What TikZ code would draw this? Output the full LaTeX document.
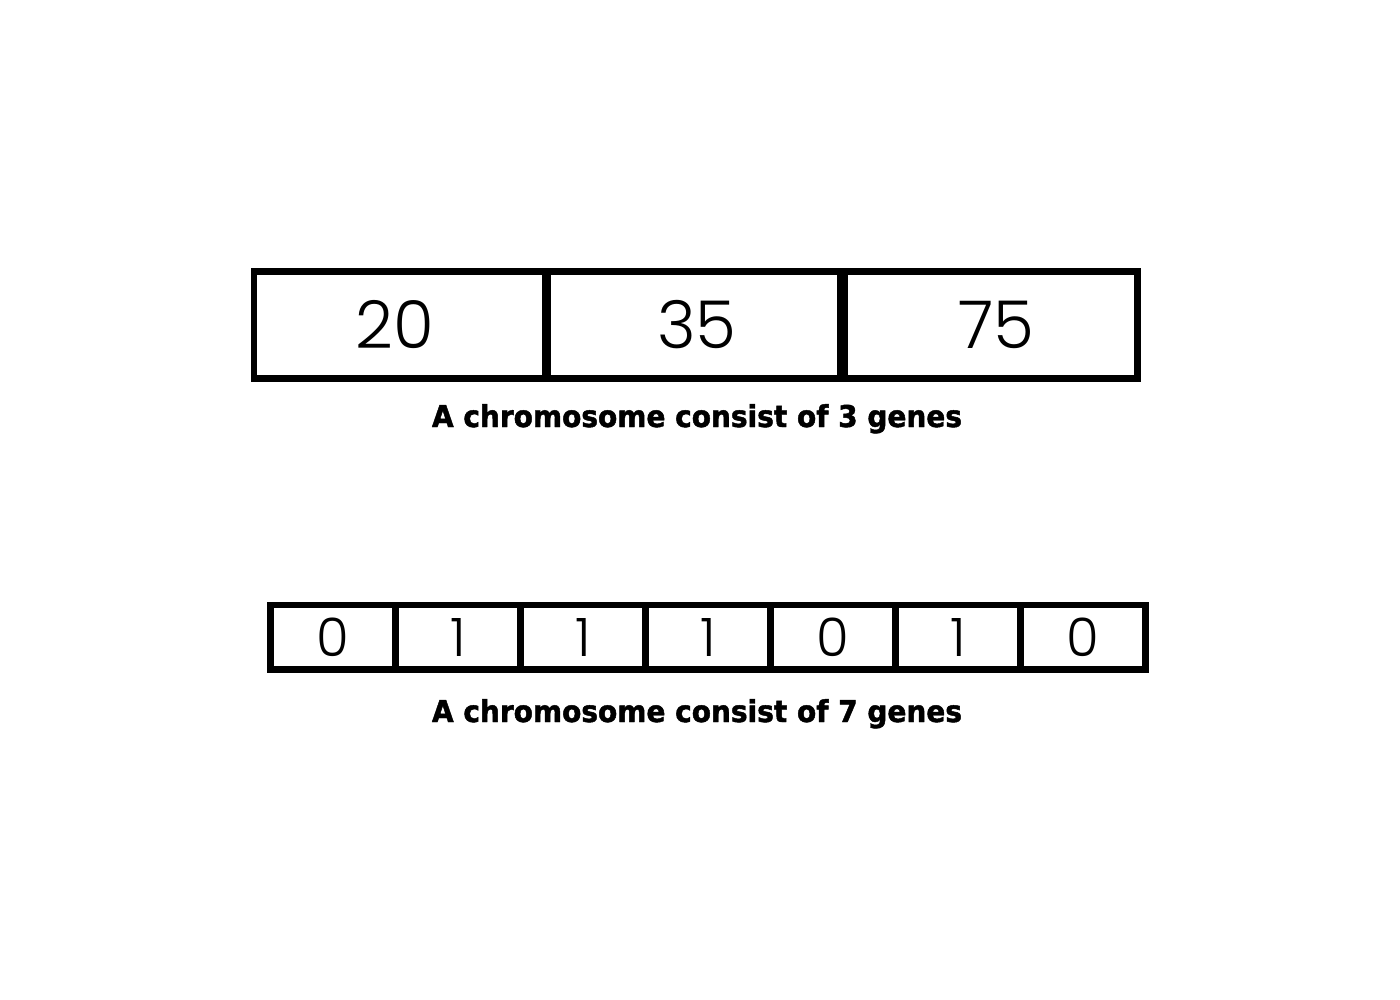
\documentclass[tikz,border=0pt]{standalone}
\usepackage{fontspec}
\newfontfamily\digitfont{Poppins Light}
\newfontfamily\capfont{DejaVu Sans Condensed}[BoldFont={DejaVu Sans Condensed Bold},BoldFeatures={FakeBold=1.5}]
\begin{document}
\begin{tikzpicture}[x=1pt,y=-1pt,
  cell/.style={draw=black, line width=6.5pt, inner sep=0pt, fill=white},
  bigcell/.style={cell, minimum height=107pt, font=\digitfont\fontsize{66}{66}\selectfont},
  smallcell/.style={cell, minimum width=125pt, minimum height=64.5pt, font=\digitfont\fontsize{53}{53}\selectfont},
  caption/.style={inner sep=0pt, anchor=base, font=\capfont\bfseries\fontsize{30}{30}\selectfont}
]
\useasboundingbox[fill=white] (0,0) rectangle (1400,1000);
% top chromosome
\node[bigcell, minimum width=291pt] (t1) at (399.5,325) {\hspace*{-10pt}20};
\node[bigcell, minimum width=292pt] (t2) at (694,325) {\hspace*{6pt}35};
\node[bigcell, minimum width=292.5pt] (t3) at (991.25,325) {\hspace*{10pt}75};
\node[caption] (c1) at (697,427) {\resizebox{530pt}{\height}{A chromosome consist of 3 genes}};
% bottom chromosome
\foreach \v [count=\i from 0] in {0,1,1,1,0,1,0}{
  \node[smallcell] (b\i) at (333+125*\i,637.25) {\v};
}
\node[caption] (c2) at (697,722) {\resizebox{530pt}{\height}{A chromosome consist of 7 genes}};
\end{tikzpicture}
\end{document}
